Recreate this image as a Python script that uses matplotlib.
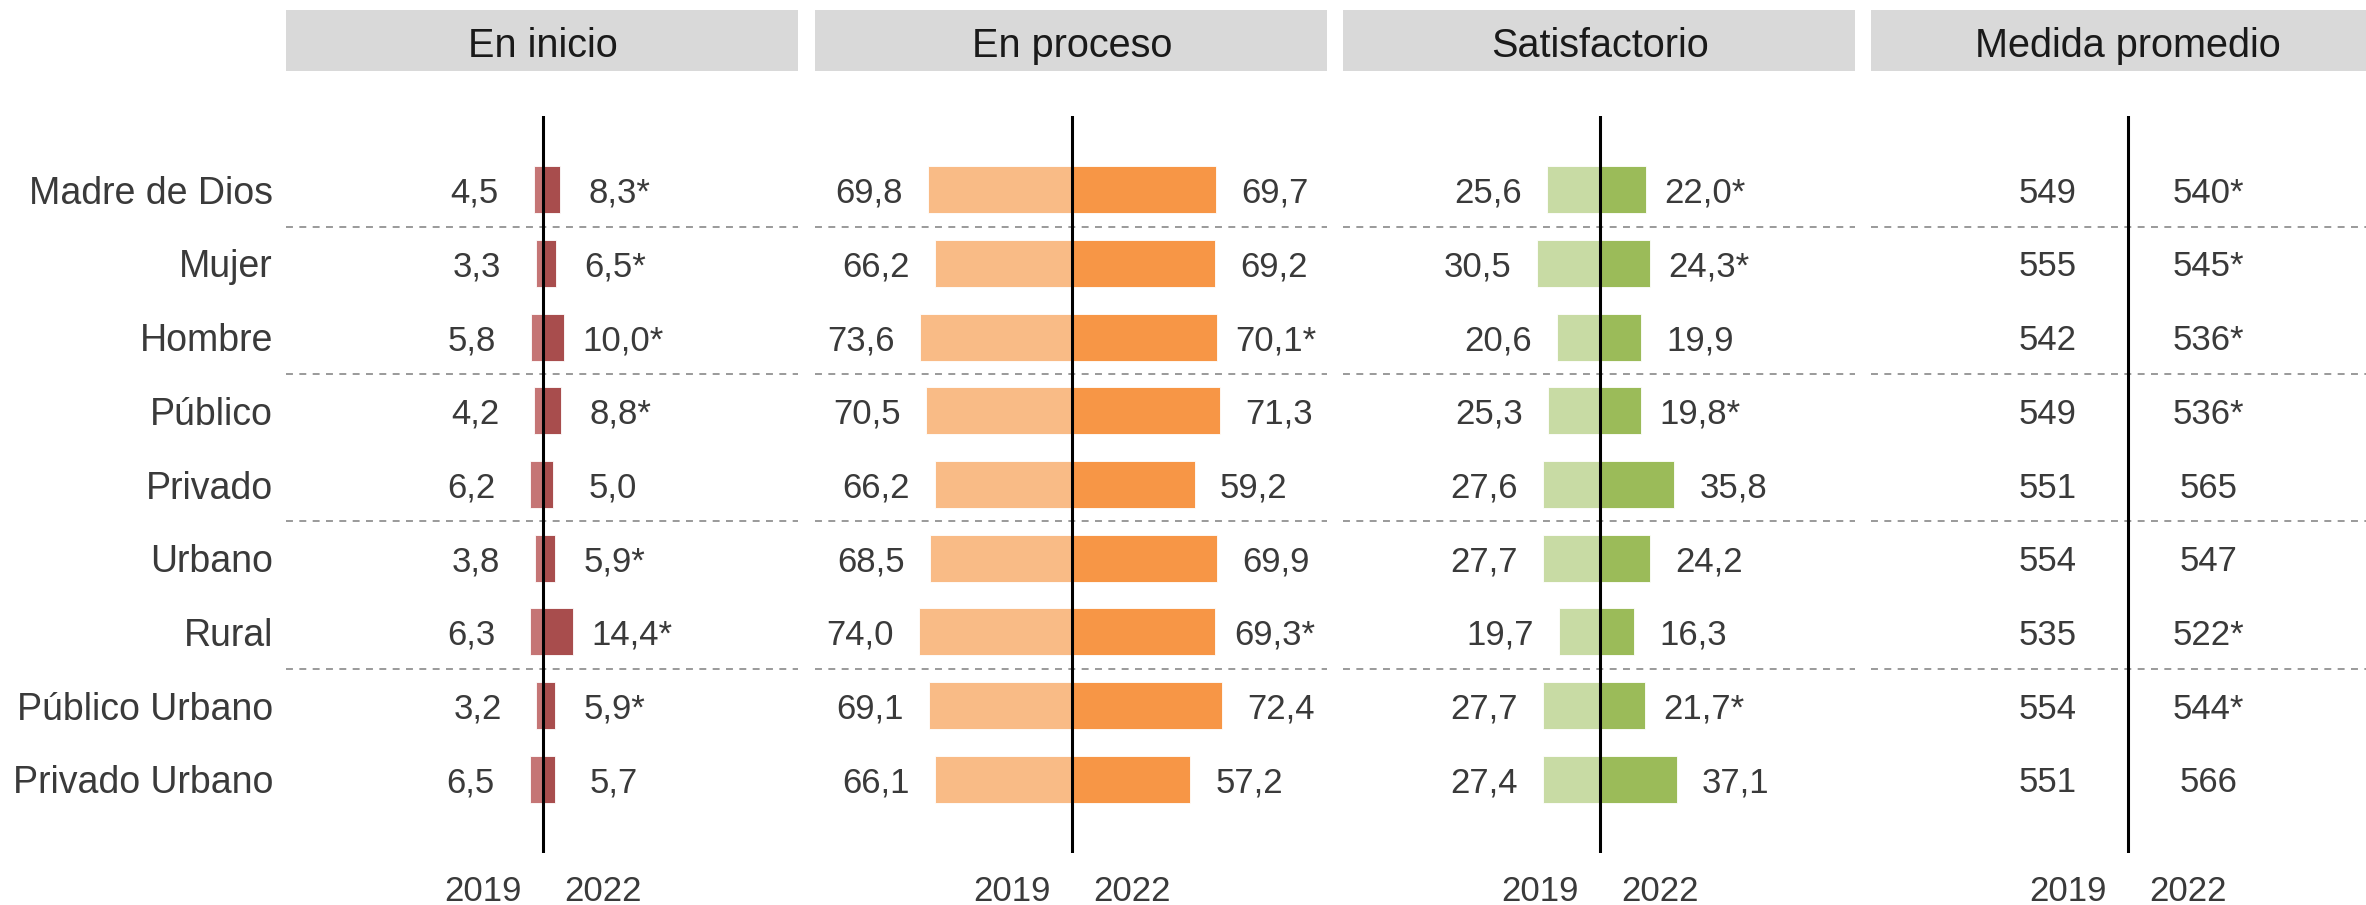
import numpy as np
import matplotlib
matplotlib.use("Agg")
import matplotlib.pyplot as plt
from matplotlib.patches import Rectangle
from matplotlib.transforms import blended_transform_factory as blend

plt.rcParams["font.family"] = ["Liberation Sans", "DejaVu Sans"]
plt.rcParams["lines.scale_dashes"] = False

# ── data ──────────────────────────────────────────────────────────────────────
rows = ["Madre de Dios", "Mujer", "Hombre", "Público", "Privado",
        "Urbano", "Rural", "Público Urbano", "Privado Urbano"]

inicio_2019 = [4.5, 3.3, 5.8, 4.2, 6.2, 3.8, 6.3, 3.2, 6.5]
inicio_2022 = [8.3, 6.5, 10.0, 8.8, 5.0, 5.9, 14.4, 5.9, 5.7]
inicio_sig = [1, 1, 1, 1, 0, 1, 1, 1, 0]

proceso_2019 = [69.8, 66.2, 73.6, 70.5, 66.2, 68.5, 74.0, 69.1, 66.1]
proceso_2022 = [69.7, 69.2, 70.1, 71.3, 59.2, 69.9, 69.3, 72.4, 57.2]
proceso_sig = [0, 0, 1, 0, 0, 0, 1, 0, 0]

satisf_2019 = [25.6, 30.5, 20.6, 25.3, 27.6, 27.7, 19.7, 27.7, 27.4]
satisf_2022 = [22.0, 24.3, 19.9, 19.8, 35.8, 24.2, 16.3, 21.7, 37.1]
satisf_sig = [1, 1, 0, 1, 0, 0, 0, 1, 0]

medida_2019 = [549, 555, 542, 549, 551, 554, 535, 554, 551]
medida_2022 = [540, 545, 536, 536, 565, 547, 522, 544, 566]
medida_sig = [1, 1, 1, 1, 0, 0, 1, 1, 0]

panels = ["En inicio", "En proceso", "Satisfactorio", "Medida promedio"]
years = ["2019", "2022"]

COLORS = [("#c57575", "#a84d4d"),
          ("#f9bb86", "#f79646"),
          ("#c8dba4", "#9bbb59"),
          (None, None)]

TXT = "#3a3a3a"
W, H = 2366, 905
FS_VAL = 25


def fmt(v, star, dec=True):
    s = f"{v:.1f}".replace(".", ",") if dec else f"{v:.0f}"
    return s + ("*" if star else "")


fig = plt.figure(figsize=(W / 100, H / 100), dpi=100)

lefts = [286, 815, 1343, 1871]
pw = 512
ax_top, ax_bot = 116, 853
y = np.arange(len(rows))

data = [(inicio_2019, inicio_2022, inicio_sig),
        (proceso_2019, proceso_2022, proceso_sig),
        (satisf_2019, satisf_2022, satisf_sig),
        (medida_2019, medida_2022, medida_sig)]

for k, (title, (v19, v22, sig)) in enumerate(zip(panels, data)):
    ax = fig.add_axes([lefts[k] / W, 1 - ax_bot / H, pw / W, (ax_bot - ax_top) / H])
    ax.set_xlim(-257 / 2.07, 255 / 2.07)
    ax.set_ylim(9.0, -1.0)
    ax.axis("off")

    c19, c22 = COLORS[k]
    if c19 is not None:
        ax.barh(y, -np.array(v19), height=0.64, color=c19, edgecolor="white",
                linewidth=0.6, zorder=2)
        ax.barh(y, np.array(v22), height=0.64, color=c22, edgecolor="white",
                linewidth=0.6, zorder=2)
        for i in range(len(rows)):
            ax.text(-(v19[i] + 28.5), i, fmt(v19[i], False), ha="center",
                    va="center_baseline", fontsize=FS_VAL, color=TXT)
            ax.text(v22[i] + 28.5, i, fmt(v22[i], sig[i]), ha="center",
                    va="center_baseline", fontsize=FS_VAL, color=TXT)
    else:
        for i in range(len(rows)):
            ax.text(-39, i, fmt(v19[i], False, dec=False), ha="center",
                    va="center_baseline", fontsize=FS_VAL, color=TXT)
            ax.text(39, i, fmt(v22[i], sig[i], dec=False), ha="center",
                    va="center_baseline", fontsize=FS_VAL, color=TXT)

    ax.axvline(0, color="black", lw=2.2, zorder=3)
    for yy in [0.5, 2.5, 4.5, 6.5]:
        ax.axhline(yy, color="#9a9a9a", lw=1.4, dashes=(5, 4.6), zorder=1)

    # header strip
    fig.add_artist(Rectangle((lefts[k] / W, 1 - 71 / H), pw / W, 61 / H,
                             transform=fig.transFigure, facecolor="#d9d9d9",
                             edgecolor="none"))
    fig.text((lefts[k] + 257) / W, 1 - 42 / H, title, ha="center",
             va="center_baseline", fontsize=28.5, color="#1a1a1a")

    # year labels under each panel
    tr = blend(ax.transData, fig.transFigure)
    ax.text(-29, 1 - 888 / H, years[0], transform=tr, ha="center",
            va="center_baseline", fontsize=FS_VAL, color=TXT)
    ax.text(29, 1 - 888 / H, years[1], transform=tr, ha="center",
            va="center_baseline", fontsize=FS_VAL, color=TXT)

    if k == 0:
        tr2 = blend(fig.transFigure, ax.transData)
        for i, r in enumerate(rows):
            ax.text(273 / W, i, r, transform=tr2, ha="right",
                    va="center_baseline", fontsize=27, color=TXT)

fig.savefig("out.png", dpi=100)
